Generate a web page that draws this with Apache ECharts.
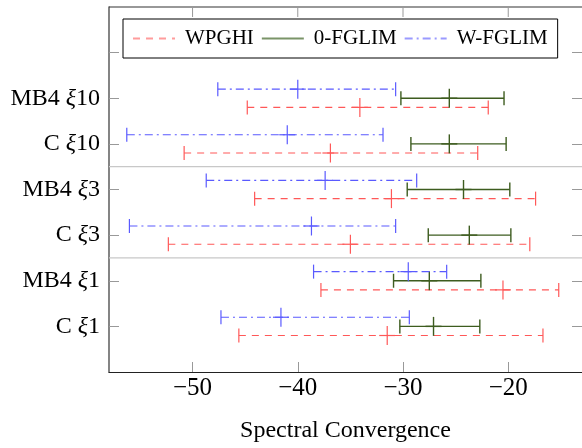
<!DOCTYPE html>
<html>
<head>
<meta charset="utf-8">
<script src="https://cdn.jsdelivr.net/npm/echarts@6/dist/echarts.min.js"></script>
<style>html,body{margin:0;padding:0;background:#fff;}#c{width:582px;height:448px;}</style>
</head>
<body>
<div id="c"></div>
<script>
// Categories, bottom to top (y = 1..6); tick 7 is unlabeled
const categories = [
  {name: 'C ', sub: '1'},
  {name: 'MB4 ', sub: '1'},
  {name: 'C ', sub: '3'},
  {name: 'MB4 ', sub: '3'},
  {name: 'C ', sub: '10'},
  {name: 'MB4 ', sub: '10'}
];
const seriesNames = ['WPGHI', '0-FGLIM', 'W-FGLIM'];
// [low, centre, high] per category
const wpghi = [
  [-45.6, -31.5, -16.7],
  [-37.8, -20.5, -15.2],
  [-52.3, -35.0, -17.95],
  [-44.1, -31.1, -17.4],
  [-50.8, -36.9, -22.9],
  [-44.8, -34.1, -21.9]
];
const fglim0 = [
  [-30.3, -27.1, -22.7],
  [-30.9, -27.5, -22.6],
  [-27.6, -23.7, -19.75],
  [-29.6, -24.25, -19.85],
  [-29.25, -25.6, -20.2],
  [-30.2, -25.6, -20.4]
];
const fglimW = [
  [-47.3, -41.6, -29.4],
  [-38.5, -29.5, -25.85],
  [-56.0, -38.7, -30.7],
  [-48.7, -37.4, -28.7],
  [-56.25, -41.0, -31.9],
  [-47.6, -40.0, -30.7]
];
const xTicks = [-50, -40, -30, -20];
const yTicks = [1, 2, 3, 4, 5, 6, 7];
const separators = [2.5, 4.5];

const FONT = 'Liberation Serif';
const RED = '#ff5858', GREEN = '#3d5c1f', BLUE = '#5a5aff';
const XMIN = -57.94, XMAX = -12.99, YMAX = 8;

function rows(arr) { return arr.map((r, i) => [i + 1, r[0], r[1], r[2]]); }

function makeRender(offset, dash, color, width) {
  return function (params, api) {
    const y = api.value(0) + offset;
    const lo = api.coord([api.value(1), y]);
    const mid = api.coord([api.value(2), y]);
    const hi = api.coord([api.value(3), y]);
    const cap = 7, pv = 9.5, ph = 8;
    const st = {stroke: color, lineWidth: width};
    return {
      type: 'group',
      children: [
        {type: 'line', shape: {x1: lo[0], y1: lo[1], x2: hi[0], y2: hi[1]},
         style: Object.assign({lineDash: dash}, st)},
        {type: 'line', shape: {x1: lo[0], y1: lo[1] - cap, x2: lo[0], y2: lo[1] + cap}, style: st},
        {type: 'line', shape: {x1: hi[0], y1: hi[1] - cap, x2: hi[0], y2: hi[1] + cap}, style: st},
        {type: 'line', shape: {x1: mid[0], y1: mid[1] - pv, x2: mid[0], y2: mid[1] + pv}, style: st},
        {type: 'line', shape: {x1: mid[0] - ph, y1: mid[1], x2: mid[0] + ph, y2: mid[1]}, style: st}
      ]
    };
  };
}

const chart = echarts.init(document.getElementById('c'), null, {renderer: 'canvas'});
const redDash = [7, 6], blueDash = [8, 4, 2, 4];

const option = {
  animation: false,
  backgroundColor: '#fff',
  grid: {left: 109, right: -3, top: 7, bottom: 68},
  legend: {
    data: seriesNames,
    left: 123, top: 19,
    padding: [9, 10, 9, 9],
    borderColor: '#000', borderWidth: 1,
    itemWidth: 42, itemHeight: 14, itemGap: 7,
    itemStyle: {opacity: 0, borderWidth: 0},
    textStyle: {fontFamily: FONT, fontSize: 21, color: '#000', padding: [0, 0, 0, 5]}
  },
  xAxis: {
    type: 'value', min: XMIN, max: XMAX, position: 'bottom',
    axisLine: {show: true, onZero: false, lineStyle: {color: '#222', width: 1.2}},
    axisTick: {show: true, inside: true, length: 10, customValues: xTicks, lineStyle: {color: '#999'}},
    axisLabel: {customValues: xTicks, fontFamily: FONT, fontSize: 25, color: '#000', margin: 4,
      formatter: v => (v < 0 ? '\u2212' + Math.abs(v) : String(v))},
    splitLine: {show: false},
    name: 'Spectral Convergence', nameLocation: 'middle', nameGap: 47,
    nameTextStyle: {fontFamily: FONT, fontSize: 24, color: '#000'}
  },
  yAxis: [{
    type: 'value', min: 0, max: YMAX, position: 'left',
    axisLine: {show: true, onZero: false, lineStyle: {color: '#666', width: 1.6}},
    axisTick: {show: true, inside: true, length: 10, customValues: yTicks, lineStyle: {color: '#999'}},
    axisLabel: {
      customValues: yTicks, margin: 9, color: '#000',
      formatter: v => {
        const c = categories[v - 1];
        if (!c) return '';
        return '{a|' + c.name + '}{b|\u03BE}{a|' + c.sub + '}';
      },
      rich: {
        a: {fontFamily: FONT, fontSize: 24, color: '#000'},
        b: {fontFamily: FONT, fontSize: 24, fontStyle: 'italic', color: '#000'}
      }
    },
    splitLine: {show: false}
  }, {
    type: 'value', min: 0, max: YMAX, position: 'right',
    axisLine: {show: false, onZero: false},
    axisTick: {show: true, inside: true, length: 10, customValues: yTicks, lineStyle: {color: '#999'}},
    axisLabel: {show: false}, splitLine: {show: false}
  }],
  series: [
    {
      type: 'custom', name: 'sep', silent: true, z: 1,
      data: separators.map(v => [v]),
      encode: {y: 0},
      renderItem: function (params, api) {
        const p = api.coord([XMIN, api.value(0)]);
        const cs = params.coordSys;
        return {type: 'line', shape: {x1: cs.x, y1: p[1], x2: cs.x + cs.width, y2: p[1]},
          style: {stroke: '#c8c8c8', lineWidth: 1.2}};
      }
    },
    {
      // top frame edge
      type: 'custom', name: 'topEdge', silent: true, z: 1,
      data: [[YMAX]],
      encode: {y: 0},
      renderItem: function (params, api) {
        const p = api.coord([XMIN, api.value(0)]);
        const cs = params.coordSys;
        return {type: 'line', shape: {x1: cs.x, y1: p[1], x2: cs.x + cs.width, y2: p[1]},
          style: {stroke: '#333', lineWidth: 1.2}};
      }
    },
    {
      // inward ticks on the top frame edge
      type: 'custom', name: 'topTicks', silent: true, z: 1,
      data: xTicks.map(v => [v]),
      encode: {x: 0},
      renderItem: function (params, api) {
        const p = api.coord([api.value(0), YMAX]);
        return {type: 'line', shape: {x1: p[0], y1: p[1], x2: p[0], y2: p[1] + 10},
          style: {stroke: '#999', lineWidth: 1}};
      }
    },
    {type: 'custom', name: 'WPGHI bars', data: rows(wpghi), encode: {x: [1, 2, 3], y: 0}, z: 2,
     renderItem: makeRender(-0.2, redDash, RED, 1.2)},
    {type: 'custom', name: '0-FGLIM bars', data: rows(fglim0), encode: {x: [1, 2, 3], y: 0}, z: 3,
     renderItem: makeRender(0, null, GREEN, 1.4)},
    {type: 'custom', name: 'W-FGLIM bars', data: rows(fglimW), encode: {x: [1, 2, 3], y: 0}, z: 4,
     renderItem: makeRender(0.2, blueDash, BLUE, 1.2)},
    {type: 'line', name: 'WPGHI', data: [], symbol: 'none', showSymbol: false, lineStyle: {color: '#ff9c9c', width: 1.5, type: redDash}, itemStyle: {color: '#ff9c9c'}},
    {type: 'line', name: '0-FGLIM', data: [], symbol: 'none', showSymbol: false, lineStyle: {color: '#7a9468', width: 1.5, type: 'solid'}, itemStyle: {color: '#7a9468'}},
    {type: 'line', name: 'W-FGLIM', data: [], symbol: 'none', showSymbol: false, lineStyle: {color: '#9a9aff', width: 1.5, type: blueDash}, itemStyle: {color: '#9a9aff'}}
  ]
};
chart.setOption(option);
</script>
</body>
</html>
